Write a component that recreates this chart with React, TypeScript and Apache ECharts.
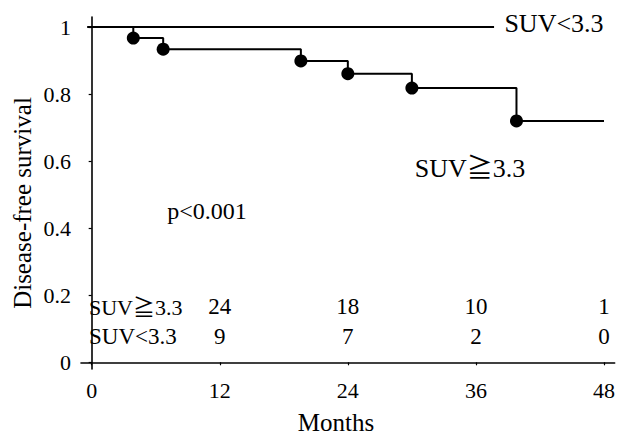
import React, { useEffect, useRef } from "react";
import * as echarts from "echarts";

// ---- data ----
const xTicks = [0, 12, 24, 36, 48];
const yTicks = [0, 0.2, 0.4, 0.6, 0.8, 1];

// SUV >= 3.3 group: event times (months) and survival after each event
const highTimes = [3.9, 6.7, 19.6, 24.0, 30.0, 39.8];
const highSurv = [0.967, 0.934, 0.899, 0.861, 0.818, 0.72];
const highEnd = 48;

// SUV < 3.3 group: no events
const lowStart = -0.4;
const lowEnd = 37.7;
const lowSurv = 1;

// numbers at risk
const riskMonths = [12, 24, 36, 48];
const riskHigh = [24, 18, 10, 1];
const riskLow = [9, 7, 2, 0];

const SERIF = "'Liberation Serif', 'Noto Sans CJK JP', serif";

export default function App() {
  const ref = useRef<HTMLDivElement>(null);
  useEffect(() => {
    if (!ref.current) return;
    const chart = echarts.init(ref.current, null, { renderer: "svg" });

    const highLine: number[][] = [[lowStart, 1]];
    highTimes.forEach((t, i) => highLine.push([t, highSurv[i]]));
    highLine.push([highEnd, highSurv[highSurv.length - 1]]);
    const highDots = highTimes.map((t, i) => [t, highSurv[i]]);
    const lowLine = [
      [lowStart, lowSurv],
      [lowEnd, lowSurv],
    ];

    const row1Y = 0.165;
    const row2Y = 0.078;

    const axisColor = "#000";
    const txt = { color: "#000", fontFamily: SERIF };

    const riskLabel = {
      show: true,
      position: "inside",
      formatter: (p: any) => String(p.value[2]),
      fontSize: 23,
      opacity: 1,
      ...txt,
    };

    chart.setOption({
      animation: false,
      backgroundColor: "#fff",
      grid: { left: 81, right: 2, top: 17, bottom: 67, containLabel: false },
      xAxis: {
        type: "value",
        min: -1,
        max: 49,
        axisLine: { show: true, lineStyle: { color: axisColor, width: 1.6 } },
        axisTick: {
          show: true,
          customValues: xTicks,
          length: 3,
          inside: false,
          lineStyle: { color: axisColor, width: 1.2 },
        },
        axisLabel: {
          customValues: xTicks,
          fontSize: 22,
          margin: 10,
          ...txt,
        },
        splitLine: { show: false },
      },
      yAxis: {
        type: "value",
        min: -0.02,
        max: 1.03,
        axisLine: { show: true, lineStyle: { color: axisColor, width: 1.6 } },
        axisTick: {
          show: true,
          customValues: yTicks,
          length: 3,
          lineStyle: { color: axisColor, width: 1.2 },
        },
        axisLabel: {
          customValues: yTicks,
          fontSize: 22,
          margin: 10,
          formatter: (v: number) => String(Math.round(v * 10) / 10),
          ...txt,
        },
        splitLine: { show: false },
      },
      series: [
        {
          type: "line",
          data: lowLine,
          symbol: "none",
          clip: false,
          lineStyle: { color: "#000", width: 2 },
        },
        {
          type: "line",
          data: highLine,
          step: "end",
          symbol: "none",
          clip: false,
          lineStyle: { color: "#000", width: 2 },
        },
        {
          type: "scatter",
          data: highDots,
          symbol: "circle",
          symbolSize: 13,
          itemStyle: { color: "#000", opacity: 1 },
        },
        {
          type: "scatter",
          data: riskMonths.map((m, i) => [m, row1Y, riskHigh[i]]),
          symbolSize: 1,
          itemStyle: { color: "rgba(255,255,255,0)", opacity: 1 },
          label: riskLabel,
        },
        {
          type: "scatter",
          data: riskMonths.map((m, i) => [m, row2Y, riskLow[i]]),
          symbolSize: 1,
          itemStyle: { color: "rgba(255,255,255,0)", opacity: 1 },
          label: riskLabel,
        },
      ],
      graphic: [
        {
          type: "text",
          x: 22,
          y: 203,
          rotation: Math.PI / 2,
          style: {
            text: "Disease-free survival",
            fontSize: 25,
            fontFamily: SERIF,
            fill: "#000",
            align: "center",
            verticalAlign: "middle",
          },
        },
        {
          type: "text",
          x: 336,
          y: 422,
          style: {
            text: "Months",
            fontSize: 25,
            fontFamily: SERIF,
            fill: "#000",
            align: "center",
            verticalAlign: "middle",
          },
        },
        {
          type: "text",
          x: 554,
          y: 23,
          style: {
            text: "SUV<3.3",
            fontSize: 26,
            fontFamily: SERIF,
            fill: "#000",
            align: "center",
            verticalAlign: "middle",
          },
        },
        {
          type: "text",
          x: 470,
          y: 168,
          style: {
            text: "SUV≧3.3",
            fontSize: 26,
            fontFamily: SERIF,
            fill: "#000",
            align: "center",
            verticalAlign: "middle",
          },
        },
        {
          type: "text",
          x: 207,
          y: 211,
          style: {
            text: "p<0.001",
            fontSize: 24,
            fontFamily: SERIF,
            fill: "#000",
            align: "center",
            verticalAlign: "middle",
          },
        },
        {
          type: "text",
          x: 89,
          y: 307,
          style: {
            text: "SUV≧3.3",
            fontSize: 22,
            fontFamily: SERIF,
            fill: "#000",
            align: "left",
            verticalAlign: "middle",
          },
        },
        {
          type: "text",
          x: 89,
          y: 336,
          style: {
            text: "SUV<3.3",
            fontSize: 23,
            fontFamily: SERIF,
            fill: "#000",
            align: "left",
            verticalAlign: "middle",
          },
        },
      ],
    });
    return () => chart.dispose();
  }, []);
  return (
    <div
      ref={ref}
      style={{ position: "fixed", left: 0, top: 0, width: 618, height: 436, background: "#fff" }}
    />
  );
}
